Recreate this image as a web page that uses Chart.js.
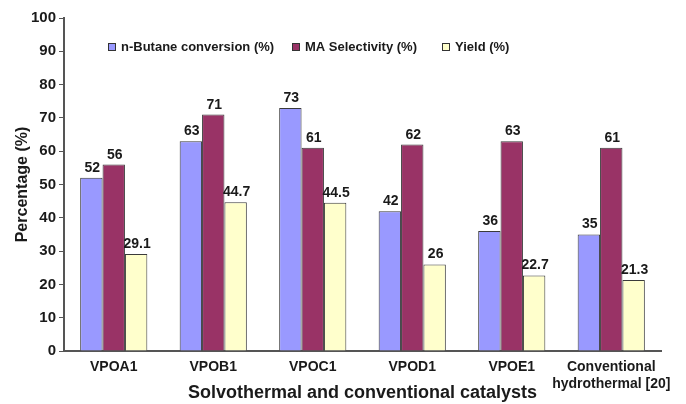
<!DOCTYPE html>
<html>
<head>
<meta charset="utf-8">
<script src="https://cdn.jsdelivr.net/npm/chart.js@4.4.1/dist/chart.umd.min.js"></script>
<style>
  html, body { margin: 0; padding: 0; background: #fff; }
  #wrap { width: 686px; height: 404px; position: relative; }
</style>
</head>
<body>
<div id="wrap"><canvas id="c" width="686" height="404"></canvas></div>
<script>
// Catalysts and measured performance
const categories = ["VPOA1", "VPOB1", "VPOC1", "VPOD1", "VPOE1", ["Conventional", "hydrothermal [20]"]];
const butaneConversion = [52, 63, 73, 42, 36, 35];
const maSelectivity = [56, 71, 61, 62, 63, 61];
const yieldValues = [29.1, 44.7, 44.5, 26, 22.7, 21.3];
const yTicks = [0, 10, 20, 30, 40, 50, 60, 70, 80, 90, 100];

const FONT = "'Liberation Sans', Arial, sans-serif";
const INK = "#1a1a1a";

// Value labels drawn above each bar
const valueLabels = {
  id: "valueLabels",
  afterDatasetsDraw(chart) {
    const ctx = chart.ctx;
    ctx.save();
    ctx.font = "bold 14px " + FONT;
    ctx.fillStyle = INK;
    ctx.textAlign = "center";
    ctx.textBaseline = "alphabetic";
    chart.data.datasets.forEach((ds, i) => {
      chart.getDatasetMeta(i).data.forEach((bar, j) => {
        ctx.fillText(String(ds.data[j]), bar.x + 1, bar.y - 6);
      });
    });
    ctx.restore();
  }
};

// Legend placed inside the plot area
const insideLegend = {
  id: "insideLegend",
  afterDraw(chart) {
    const ctx = chart.ctx;
    const starts = [108, 292, 442];
    ctx.save();
    ctx.font = "bold 13px " + FONT;
    ctx.textBaseline = "middle";
    ctx.textAlign = "left";
    chart.data.datasets.forEach((ds, i) => {
      const x = starts[i], y = 47;
      ctx.fillStyle = ds.backgroundColor;
      ctx.fillRect(x, y - 4, 8, 8);
      ctx.strokeStyle = "#333";
      ctx.lineWidth = 1;
      ctx.strokeRect(x + 0.5, y - 3.5, 7, 7);
      ctx.fillStyle = INK;
      ctx.fillText(ds.label, x + 13, y);
    });
    ctx.restore();
  }
};

new Chart(document.getElementById("c"), {
  type: "bar",
  data: {
    labels: categories,
    datasets: [
      { label: "n-Butane conversion (%)", data: butaneConversion, backgroundColor: "#9999FF" },
      { label: "MA Selectivity (%)", data: maSelectivity, backgroundColor: "#993366" },
      { label: "Yield (%)", data: yieldValues, backgroundColor: "#FFFFCC" }
    ].map(d => Object.assign(d, { borderColor: "#3a3a3a", borderWidth: 1, categoryPercentage: 0.675, barPercentage: 1.0 }))
  },
  options: {
    responsive: false,
    animation: false,
    layout: { padding: { top: 18, right: 25, left: 0, bottom: 0 } },
    plugins: { legend: { display: false }, tooltip: { enabled: false } },
    scales: {
      x: {
        grid: { display: false },
        border: { display: true, color: "#555", width: 2 },
        ticks: { color: INK, font: { family: FONT, size: 14, weight: "bold", lineHeight: 1.2 }, padding: 0, maxRotation: 0, autoSkip: false },
        title: { display: true, text: "Solvothermal and conventional catalysts", color: INK, font: { family: FONT, size: 18, weight: "bold" }, padding: { top: 0, bottom: 0 } },
        afterFit(scale) { scale.height = 53; }
      },
      y: {
        min: 0, max: 100,
        afterBuildTicks(scale) { scale.ticks = yTicks.map(v => ({ value: v })); },
        grid: { display: true, drawOnChartArea: false, drawTicks: true, tickLength: 5, color: "#555", lineWidth: 1 },
        border: { display: true, color: "#555", width: 2 },
        ticks: { color: INK, font: { family: FONT, size: 15, weight: "bold" }, padding: 3 },
        title: { display: true, text: "Percentage (%)", color: INK, font: { family: FONT, size: 16, weight: "bold" }, padding: { top: 13, bottom: 0 } },
        afterFit(scale) { scale.width = 64; }
      }
    }
  },
  plugins: [valueLabels, insideLegend]
});
</script>
</body>
</html>
